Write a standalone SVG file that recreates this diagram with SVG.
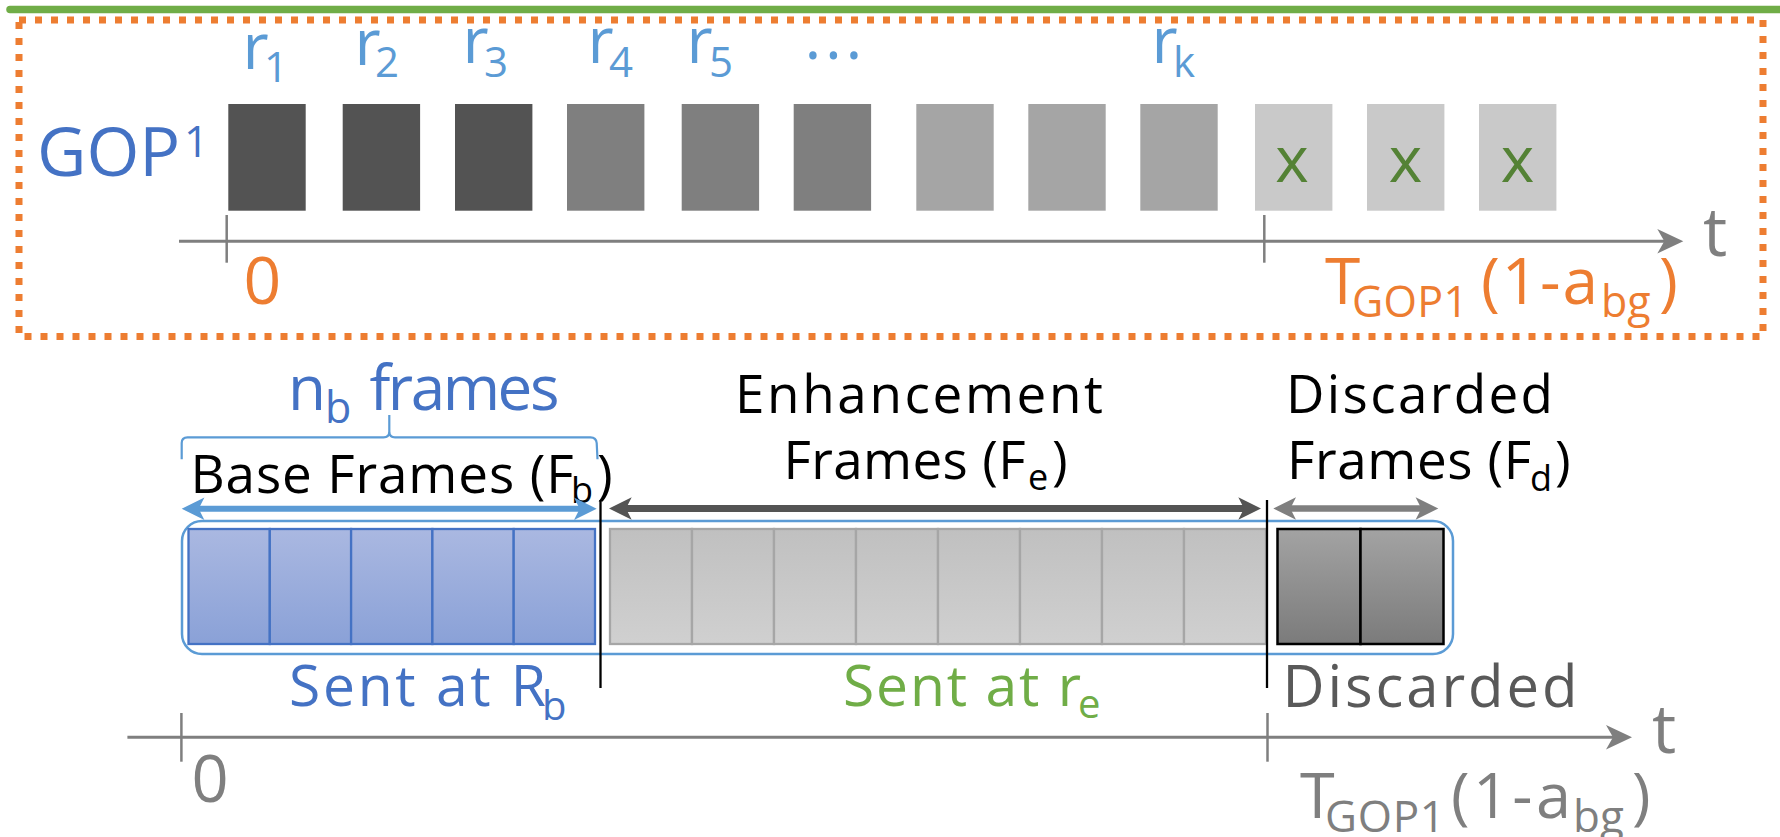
<svg xmlns="http://www.w3.org/2000/svg" width="1780" height="837" viewBox="0 0 1780 837">
  <defs>
    <style>
      text { font-family: "Open Sans", "Liberation Sans", sans-serif; }
      .blue { fill: #4472C4; }
      .lblue { fill: #5B9BD5; }
      .orange { fill: #ED7D31; }
      .gray { fill: #7F7F7F; }
      .dgray { fill: #595959; }
      .black { fill: #000000; }
      .green { fill: #70AD47; }
      .dgreen { fill: #548235; }
      .q1 { fill: #535353; }
      .q2 { fill: #7F7F7F; }
      .q3 { fill: #A5A5A5; }
      .q4 { fill: #C9C9C9; }
      .axis { stroke: #7F7F7F; stroke-width: 3; fill: none; }
      .tick { stroke: #7F7F7F; stroke-width: 2.5; }
      .split { stroke: #000000; stroke-width: 2.3; }
      .base-cell { fill: url(#gBase); stroke: #4472C4; stroke-width: 2.3; }
      .enh-cell { fill: url(#gEnh); stroke: #A6A6A6; stroke-width: 2.3; }
      .disc-cell { fill: url(#gDisc); stroke: #000000; stroke-width: 2.5; }
    </style>
    <linearGradient id="gBase" x1="0" y1="0" x2="0" y2="1">
      <stop offset="0" stop-color="#AAB8E1"/>
      <stop offset="1" stop-color="#8AA1D7"/>
    </linearGradient>
    <linearGradient id="gEnh" x1="0" y1="0" x2="0" y2="1">
      <stop offset="0" stop-color="#C0C0C0"/>
      <stop offset="1" stop-color="#D0D0D0"/>
    </linearGradient>
    <linearGradient id="gDisc" x1="0" y1="0" x2="0" y2="1">
      <stop offset="0" stop-color="#A3A3A3"/>
      <stop offset="1" stop-color="#7B7B7B"/>
    </linearGradient>
    <marker id="axisHead" markerUnits="userSpaceOnUse" orient="auto" refX="0" refY="0" markerWidth="40" markerHeight="40" viewBox="-20 -20 40 40" overflow="visible">
      <path d="M8,0 L-18,-12.3 L-11,0 L-18,12.3 Z" fill="#7F7F7F"/>
    </marker>
    <marker id="headBlue" markerUnits="userSpaceOnUse" orient="auto-start-reverse" refX="0" refY="0" markerWidth="40" markerHeight="40" viewBox="-20 -20 40 40" overflow="visible">
      <path d="M12,0 L-10.7,-11.3 L-5,0 L-10.7,11.3 Z" fill="#5B9BD5"/>
    </marker>
    <marker id="headDark" markerUnits="userSpaceOnUse" orient="auto-start-reverse" refX="0" refY="0" markerWidth="40" markerHeight="40" viewBox="-20 -20 40 40" overflow="visible">
      <path d="M12,0 L-10.7,-11.3 L-5,0 L-10.7,11.3 Z" fill="#545454"/>
    </marker>
    <marker id="headGray" markerUnits="userSpaceOnUse" orient="auto-start-reverse" refX="0" refY="0" markerWidth="40" markerHeight="40" viewBox="-20 -20 40 40" overflow="visible">
      <path d="M12,0 L-10.7,-11.3 L-5,0 L-10.7,11.3 Z" fill="#7F7F7F"/>
    </marker>
  </defs>

  <rect width="1780" height="837" fill="#FFFFFF"/>

  <!-- top rule and dotted GOP frame -->
  <line x1="10" y1="9.5" x2="1790" y2="9.5" stroke="#70AD47" stroke-width="7.5" stroke-linecap="round"/>
  <rect id="gop-box" x="19" y="20" width="1744" height="316.5" fill="none" stroke="#ED7D31" stroke-width="7" stroke-dasharray="7 9"/>

  <!-- GOP label -->
  <g id="gop-label">
    <text x="37" y="176" font-size="68" class="blue">GOP</text>
    <text x="184" y="157" font-size="43" class="blue">1</text>
  </g>

  <!-- rate labels -->
  <g id="rate-labels" class="lblue">
    <text x="242.5" y="69" font-size="64">r</text><text x="264" y="82" font-size="42">1</text>
    <text x="354.5" y="65" font-size="64">r</text><text x="375" y="77" font-size="42">2</text>
    <text x="462.5" y="63" font-size="64">r</text><text x="484" y="77" font-size="42">3</text>
    <text x="587.5" y="63" font-size="64">r</text><text x="609" y="77" font-size="42">4</text>
    <text x="686.5" y="63" font-size="64">r</text><text x="709" y="77" font-size="42">5</text>
    <text x="804.4" y="58.5" font-size="64" letter-spacing="3.8">...</text>
    <text x="1151.5" y="63" font-size="64">r</text><text x="1173" y="77" font-size="42">k</text>
  </g>

  <!-- frames of the GOP -->
  <g id="gop-frames">
    <rect id="frame-1" class="q1" x="228.3" y="104" width="77.4" height="106.7"/>
    <rect id="frame-2" class="q1" x="342.7" y="104" width="77.4" height="106.7"/>
    <rect id="frame-3" class="q1" x="455" y="104" width="77.4" height="106.7"/>
    <rect id="frame-4" class="q2" x="567" y="104" width="77.4" height="106.7"/>
    <rect id="frame-5" class="q2" x="681.7" y="104" width="77.4" height="106.7"/>
    <rect id="frame-6" class="q2" x="793.7" y="104" width="77.4" height="106.7"/>
    <rect id="frame-7" class="q3" x="916.3" y="104" width="77.4" height="106.7"/>
    <rect id="frame-8" class="q3" x="1028.3" y="104" width="77.4" height="106.7"/>
    <rect id="frame-9" class="q3" x="1140.3" y="104" width="77.4" height="106.7"/>
    <g id="frame-10"><rect class="q4" x="1255" y="104" width="77.4" height="106.7"/><text x="1292" y="181.7" font-size="64" text-anchor="middle" class="dgreen">x</text></g>
    <g id="frame-11"><rect class="q4" x="1367" y="104" width="77.4" height="106.7"/><text x="1405.5" y="181.7" font-size="64" text-anchor="middle" class="dgreen">x</text></g>
    <g id="frame-12"><rect class="q4" x="1479" y="104" width="77.4" height="106.7"/><text x="1517.5" y="181.7" font-size="64" text-anchor="middle" class="dgreen">x</text></g>
  </g>

  <!-- top time axis labels -->
  <g id="top-axis-labels">
    <text x="1703" y="256" font-size="68" class="gray">t</text>
    <text x="243.5" y="304" font-size="66" class="orange">0</text>
    <g class="orange">
      <text x="1325" y="304" font-size="64">T</text>
      <text x="1352" y="316.7" font-size="43" textLength="116">GOP1</text>
      <text x="1481" y="304" font-size="64" textLength="117">(1-a</text>
      <text x="1601" y="316.7" font-size="43">bg</text>
      <text x="1659" y="304" font-size="64">)</text>
    </g>
  </g>

  <!-- base frame count -->
  <g id="nb-label" class="blue">
    <text x="288" y="410" font-size="62">n</text>
    <text x="325" y="422.7" font-size="43">b</text>
    <text x="369.5" y="410" font-size="62" textLength="190">frames</text>
  </g>
  <path id="nb-brace" d="M181.7,459.3 L181.7,443 Q181.7,437.3 187.5,437.3 L383.5,437.3 Q389.3,437.3 389.3,431.5 L389.3,415 L389.3,431.5 Q389.3,437.3 395,437.3 L590.5,437.3 Q596.2,437.3 596.7,443 L597.5,459.3" fill="none" stroke="#5B9BD5" stroke-width="2.2"/>

  <!-- segment titles -->
  <g id="base-title" class="black">
    <text x="190.5" y="493" font-size="53" textLength="383">Base Frames (F</text>
    <text x="571" y="503" font-size="36">b</text>
    <text x="597" y="493" font-size="53">)</text>
  </g>
  <g id="enh-title" class="black">
    <text x="735" y="412.7" font-size="53" textLength="368">Enhancement</text>
    <text x="783.5" y="479.3" font-size="53" textLength="242">Frames (F</text>
    <text x="1028" y="490" font-size="36">e</text>
    <text x="1052" y="479.3" font-size="53">)</text>
  </g>
  <g id="disc-title" class="black">
    <text x="1286" y="413.3" font-size="53" textLength="267">Discarded</text>
    <text x="1287" y="479.3" font-size="53" textLength="244">Frames (F</text>
    <text x="1530" y="491" font-size="36">d</text>
    <text x="1555" y="479.3" font-size="53">)</text>
  </g>

  <!-- transmitted GOP -->
  <rect id="gop-container" x="182" y="521" width="1271" height="133" rx="20" fill="none" stroke="#5B9BD5" stroke-width="2.5"/>
  <g id="base-frames">
    <rect class="base-cell" x="188.5" y="529" width="81.3" height="115"/>
    <rect class="base-cell" x="269.8" y="529" width="81.3" height="115"/>
    <rect class="base-cell" x="351.1" y="529" width="81.3" height="115"/>
    <rect class="base-cell" x="432.4" y="529" width="81.3" height="115"/>
    <rect class="base-cell" x="513.7" y="529" width="81.3" height="115"/>
  </g>
  <g id="enh-frames">
    <rect class="enh-cell" x="610" y="529" width="82" height="115"/>
    <rect class="enh-cell" x="692" y="529" width="82" height="115"/>
    <rect class="enh-cell" x="774" y="529" width="82" height="115"/>
    <rect class="enh-cell" x="856" y="529" width="82" height="115"/>
    <rect class="enh-cell" x="938" y="529" width="82" height="115"/>
    <rect class="enh-cell" x="1020" y="529" width="82" height="115"/>
    <rect class="enh-cell" x="1102" y="529" width="82" height="115"/>
    <rect class="enh-cell" x="1184" y="529" width="82" height="115"/>
  </g>
  <g id="disc-frames">
    <rect class="disc-cell" x="1277.5" y="529" width="83" height="115"/>
    <rect class="disc-cell" x="1360.5" y="529" width="83" height="115"/>
  </g>

  <!-- rate labels under segments -->
  <g id="base-rate" class="blue">
    <text x="289" y="706" font-size="57" textLength="257">Sent at R</text>
    <text x="542" y="720" font-size="40">b</text>
  </g>
  <g id="enh-rate" class="green">
    <text x="843" y="706" font-size="57" textLength="238">Sent at r</text>
    <text x="1078" y="718" font-size="40">e</text>
  </g>
  <text id="disc-rate" x="1282.5" y="706.7" font-size="58" class="dgray" textLength="295">Discarded</text>

  <!-- bottom time axis labels -->
  <g id="bottom-axis-labels" class="gray">
    <text x="191.5" y="801.7" font-size="65">0</text>
    <text x="1652" y="753.3" font-size="68">t</text>
    <text x="1300" y="818.3" font-size="63">T</text>
    <text x="1325" y="831.7" font-size="44" textLength="120">GOP1</text>
    <text x="1451" y="818.3" font-size="63" textLength="120">(1-a</text>
    <text x="1573" y="831.7" font-size="44">bg</text>
    <text x="1632" y="818.3" font-size="63">)</text>
  </g>

  <!-- axes, ticks, span arrows and boundaries -->
  <g id="connectors">
    <line class="axis" x1="179" y1="241.3" x2="1675.3" y2="241.3" marker-end="url(#axisHead)"/>
    <line class="tick" x1="226.7" y1="215" x2="226.7" y2="262.7"/>
    <line class="tick" x1="1264.3" y1="215" x2="1264.3" y2="262.7"/>

    <line x1="193.7" y1="508.7" x2="584.7" y2="508.7" stroke="#5B9BD5" stroke-width="6" marker-start="url(#headBlue)" marker-end="url(#headBlue)"/>
    <line x1="621" y1="508.5" x2="1249" y2="508.5" stroke="#545454" stroke-width="7" marker-start="url(#headDark)" marker-end="url(#headDark)"/>
    <line x1="1285.3" y1="508.5" x2="1426.3" y2="508.5" stroke="#7F7F7F" stroke-width="6.5" marker-start="url(#headGray)" marker-end="url(#headGray)"/>

    <line class="split" x1="600.5" y1="500" x2="600.5" y2="688"/>
    <line class="split" x1="1267" y1="500" x2="1267" y2="688"/>

    <line class="axis" x1="127.4" y1="737.3" x2="1624" y2="737.3" marker-end="url(#axisHead)"/>
    <line class="tick" x1="181.4" y1="713" x2="181.4" y2="761.7"/>
    <line class="tick" x1="1267.5" y1="713" x2="1267.5" y2="761.7"/>
  </g>
</svg>
